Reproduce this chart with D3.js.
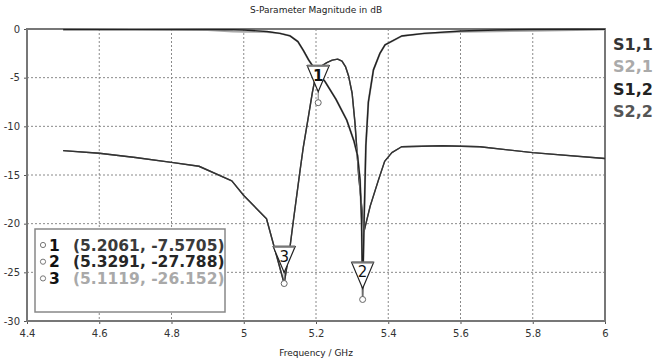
<!DOCTYPE html>
<html>
<head>
<meta charset="utf-8">
<script src="https://cdn.jsdelivr.net/npm/d3@7"></script>
<style>
  body { margin: 0; background: #fff; }
  text { font-family: "DejaVu Sans", Verdana, sans-serif; }
</style>
</head>
<body>
<svg id="chart" width="657" height="363"></svg>
<script>
// tick values
const freqTicks = [4.4, 4.6, 4.8, 5.0, 5.2, 5.4, 5.6, 5.8, 6.0];
const dbTicks = [0, -5, -10, -15, -20, -25, -30];

// S1,1 / S2,2 (they overlap)
const reflFreq = [4.5, 4.6, 4.7, 4.8, 4.876, 4.967, 5.0, 5.063, 5.1119, 5.128, 5.137, 5.156, 5.165, 5.179,
  5.19, 5.2, 5.215, 5.23, 5.245, 5.26, 5.272, 5.282, 5.29, 5.3, 5.308, 5.318, 5.333, 5.35, 5.373, 5.39,
  5.41, 5.437, 5.55, 5.654, 5.8, 6.0];
const s11Db = [-12.5, -12.77, -13.2, -13.7, -14.1, -15.6, -17.1, -19.5, -26.15, -22.4, -19.8, -14.5, -12.1, -9.0,
  -6.5, -4.6, -3.8, -3.45, -3.2, -3.1, -3.3, -3.9, -4.8, -6.6, -9.7, -15.0, -20.8, -18.2, -15.5, -13.6,
  -12.7, -12.1, -12.0, -12.1, -12.7, -13.3];
const s22Db = s11Db.slice();

// S2,1 / S1,2 (nearly overlapping)
const transFreq = [4.5, 4.7, 4.9, 4.97, 5.0, 5.064, 5.1, 5.128, 5.15, 5.165, 5.18, 5.2, 5.225, 5.255, 5.285,
  5.305, 5.315, 5.322, 5.326, 5.329, 5.333, 5.338, 5.345, 5.359, 5.377, 5.391, 5.437, 5.5, 5.6, 5.7, 5.8, 6.0];
const s12Db = [-0.05, -0.06, -0.06, -0.08, -0.1, -0.25, -0.45, -0.7, -1.3, -2.2, -3.2, -4.3, -5.4, -7.2, -9.35,
  -11.5, -13.0, -15.5, -19.6, -27.79, -20.0, -12.0, -7.5, -4.2, -2.5, -1.64, -0.72, -0.45, -0.2, -0.1, -0.05, -0.03];
const s21Db = [-0.05, -0.06, -0.1, -0.25, -0.27, -0.3, -0.45, -0.7, -1.3, -2.2, -3.2, -4.3, -5.4, -7.2, -9.35,
  -11.5, -13.0, -15.5, -19.6, -26.5, -20.0, -12.0, -7.5, -4.2, -2.5, -1.64, -0.72, -0.45, -0.27, -0.22, -0.18, -0.05];

const seriesNames = ["S1,1", "S2,1", "S1,2", "S2,2"];

// markers
const markerIds = [1, 2, 3];
const markerFreq = [5.2061, 5.3291, 5.1119];
const markerDb = [-7.5705, -27.788, -26.152];

const colors = { "S1,1": "#333", "S2,1": "#aaa", "S1,2": "#222", "S2,2": "#666" };
const markerTextColors = ["#3a3a3a", "#262626", "#a9a9a9"];

const svg = d3.select("#chart");
const plot = { left: 27, right: 605, top: 29, bottom: 321 };

const x = d3.scaleLinear().domain([4.4, 6]).range([plot.left, plot.right]);
const y = d3.scaleLinear().domain([-30, 0]).range([plot.bottom, plot.top]);

// grid
const grid = svg.append("g");
grid.selectAll(".vgrid").data(freqTicks.slice(1, -1)).enter().append("line")
  .attr("x1", d => x(d)).attr("x2", d => x(d))
  .attr("y1", plot.top).attr("y2", plot.bottom)
  .attr("stroke", "#8a8a8a").attr("stroke-dasharray", "2,2");
grid.selectAll(".hgrid").data(dbTicks.slice(1, -1)).enter().append("line")
  .attr("y1", d => y(d)).attr("y2", d => y(d))
  .attr("x1", plot.left).attr("x2", plot.right)
  .attr("stroke", "#8a8a8a").attr("stroke-dasharray", "2,2");

// axes
const xAxis = d3.axisBottom(x).tickValues(freqTicks).tickSize(3).tickFormat(d => String(+d.toFixed(1)));
const yAxis = d3.axisLeft(y).tickValues(dbTicks).tickSize(3).tickFormat(d => String(d));

const gx = svg.append("g").attr("transform", `translate(0,${plot.bottom})`).call(xAxis);
gx.select(".domain").remove();
gx.selectAll("line").attr("stroke", "#555");
gx.selectAll("text").attr("font-size", 10).attr("fill", "#333").attr("dy", "1.0em");

const gy = svg.append("g").attr("transform", `translate(${plot.left},0)`).call(yAxis);
gy.select(".domain").remove();
gy.selectAll("line").attr("stroke", "#555");
gy.selectAll("text").attr("font-size", 10).attr("fill", "#333").attr("x", -7);

// frame
svg.append("rect")
  .attr("x", plot.left).attr("y", plot.top)
  .attr("width", plot.right - plot.left).attr("height", plot.bottom - plot.top)
  .attr("fill", "none").attr("stroke", "#777").attr("stroke-width", 2);

// curves
const line = d3.line().x(d => x(d[0])).y(d => y(d[1]));
const zip = (f, v) => f.map((d, i) => [d, v[i]]);
const curves = [
  ["S2,2", zip(reflFreq, s22Db)],
  ["S1,1", zip(reflFreq, s11Db)],
  ["S2,1", zip(transFreq, s21Db)],
  ["S1,2", zip(transFreq, s12Db)]
];
svg.append("g").selectAll("path").data(curves).enter().append("path")
  .attr("d", d => line(d[1]))
  .attr("fill", "none")
  .attr("stroke", d => colors[d[0]])
  .attr("stroke-width", d => d[0] === "S2,1" ? 2 : 1.4)
  .attr("stroke-linejoin", "round");

// marker flags
const mk = svg.append("g").selectAll("g").data(markerIds).enter().append("g")
  .attr("transform", (d, i) => `translate(${x(markerFreq[i])},${y(markerDb[i])})`);
mk.append("line").attr("x1", 0).attr("x2", 0).attr("y1", -11).attr("y2", -3)
  .attr("stroke", "#777");
mk.append("path").attr("d", "M-11,-37L11,-37L0,-11Z")
  .attr("fill", "#fff").attr("stroke", "#222").attr("stroke-width", 1.2);
mk.append("line").attr("x1", -11).attr("x2", 11).attr("y1", -37).attr("y2", -37)
  .attr("stroke", "#777").attr("stroke-width", 2.2);
mk.append("circle").attr("r", 3).attr("fill", "#fff").attr("stroke", "#666");
mk.append("text").attr("text-anchor", "middle").attr("y", -22)
  .attr("font-size", 15).attr("fill", "#111")
  .attr("font-weight", d => d === 1 ? "bold" : "normal")
  .text(d => d);

// marker readout box
svg.append("rect").attr("x", 35).attr("y", 229).attr("width", 190).attr("height", 83)
  .attr("fill", "#fff").attr("stroke", "#888").attr("stroke-width", 1.5);
const rows = svg.append("g").selectAll("g").data(markerIds).enter().append("g")
  .attr("transform", (d, i) => `translate(43,${245 + i * 16.7})`);
rows.append("circle").attr("r", 2.6).attr("fill", "#fff").attr("stroke", "#777");
rows.append("text").attr("x", 6).attr("dy", "0.36em")
  .attr("font-size", 15.5).attr("font-weight", "bold").attr("fill", "#111")
  .text(d => d);
rows.append("text").attr("x", 30).attr("dy", "0.36em")
  .attr("font-size", 15.5).attr("font-weight", "bold")
  .attr("fill", (d, i) => markerTextColors[i])
  .text((d, i) => `(${markerFreq[i]}, ${markerDb[i]})`);

// legend
svg.append("g").selectAll("text").data(seriesNames).enter().append("text")
  .attr("x", 613).attr("y", (d, i) => 44 + i * 22.4).attr("dy", "0.36em")
  .attr("font-size", 16).attr("font-weight", "bold")
  .attr("fill", d => colors[d] === "#666" ? "#555" : colors[d])
  .text(d => d);

// title and axis label
svg.append("text").attr("x", 316).attr("y", 13).attr("text-anchor", "middle")
  .attr("font-size", 9).attr("fill", "#222").text("S-Parameter Magnitude in dB");
svg.append("text").attr("x", 316).attr("y", 356).attr("text-anchor", "middle")
  .attr("font-size", 9).attr("fill", "#222").text("Frequency / GHz");
</script>
</body>
</html>
